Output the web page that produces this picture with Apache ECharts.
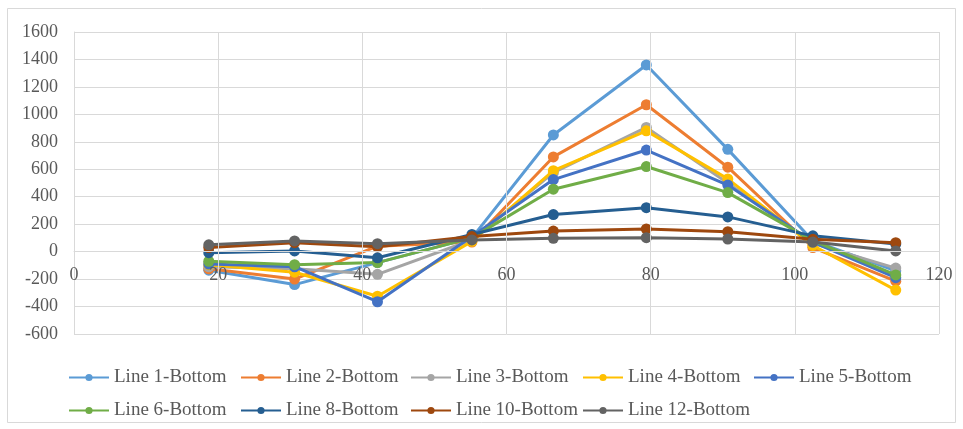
<!DOCTYPE html>
<html>
<head>
<meta charset="utf-8">
<script src="https://cdn.jsdelivr.net/npm/echarts@6/dist/echarts.min.js"></script>
<style>
  html, body { margin: 0; padding: 0; background: #ffffff; }
  #chart { width: 963px; height: 429px; }
</style>
</head>
<body>
<div id="chart"></div>
<script>
// Measurement positions along the section
const positions = [18.7, 30.6, 42.1, 55.2, 66.5, 79.4, 90.7, 102.5, 114.0];

// Values for each line
const line1 = [-135, -240, -80, 100, 850, 1360, 745, 80, -140];
const line2 = [-125, -200, 40, 70, 690, 1070, 615, 30, -215];
const line3 = [-110, -125, -165, 85, 575, 905, 500, 60, -120];
const line4 = [-95, -150, -325, 75, 590, 880, 530, 45, -280];
const line5 = [-90, -110, -365, 110, 525, 740, 485, 70, -190];
const line6 = [-70, -95, -80, 100, 455, 620, 430, 80, -170];
const line8 = [-8, 5, -45, 125, 270, 320, 253, 115, 55];
const line10 = [30, 65, 35, 110, 150, 165, 145, 90, 65];
const line12 = [50, 78, 58, 85, 97, 102, 92, 70, 5];

const seriesNames = ['Line 1-Bottom', 'Line 2-Bottom', 'Line 3-Bottom', 'Line 4-Bottom', 'Line 5-Bottom',
                     'Line 6-Bottom', 'Line 8-Bottom', 'Line 10-Bottom', 'Line 12-Bottom'];
const seriesValues = [line1, line2, line3, line4, line5, line6, line8, line10, line12];
const seriesColors = ['#5B9BD5', '#ED7D31', '#A5A5A5', '#FFC000', '#4472C4', '#70AD47', '#255E91', '#9E480E', '#636363'];

// y axis range
const yMin = -600, yMax = 1600, yStep = 200;
// x axis range
const xMin = 0, xMax = 120, xStep = 20;

const font = '"Liberation Serif", "Times New Roman", serif';

// plot area
const gridTop = 32, gridBottom = 95, chartH = 429;
const gridH = chartH - gridTop - gridBottom;
// horizontal axis crosses the vertical one at zero
const zeroOffset = -(0 - yMin) / (yMax - yMin) * gridH;

const series = seriesNames.map((name, i) => ({
  name: name,
  type: 'line',
  data: positions.map((x, j) => [x, seriesValues[i][j]]),
  symbol: 'circle',
  symbolSize: 11,
  lineStyle: { width: 3, color: seriesColors[i] },
  itemStyle: { color: seriesColors[i] },
  z: 2 + i
}));

// Legend laid out in fixed-width columns, two rows
const colLeft = [68, 240, 410, 582, 753];
const rowTop = [368, 401];
const legends = seriesNames.map((name, i) => ({
  orient: 'horizontal',
  left: colLeft[i % 5],
  top: rowTop[Math.floor(i / 5)],
  padding: 0,
  itemWidth: 40,
  itemHeight: 9,
  itemGap: 0,
  data: [name],
  textStyle: { fontFamily: font, fontSize: 19, color: '#595959' }
}));

const chart = echarts.init(document.getElementById('chart'), null, { renderer: 'canvas' });
chart.setOption({
  backgroundColor: '#ffffff',
  animation: false,
  color: seriesColors,
  graphic: [{
    type: 'rect',
    shape: { x: 7.5, y: 8.5, width: 948, height: 414 },
    style: { fill: 'none', stroke: '#d9d9d9', lineWidth: 1 },
    silent: true
  }],
  grid: { left: 74, right: 24, top: gridTop, bottom: gridBottom, containLabel: false },
  xAxis: {
    type: 'value',
    position: 'bottom',
    offset: zeroOffset,
    z: 20,
    min: xMin, max: xMax, interval: xStep,
    axisLine: { show: true, onZero: false, lineStyle: { color: '#d9d9d9', width: 1 } },
    axisTick: { show: false },
    axisLabel: { fontFamily: font, fontSize: 18, color: '#595959', margin: 15 },
    splitLine: { show: true, lineStyle: { color: '#d9d9d9', width: 1 } }
  },
  yAxis: {
    type: 'value',
    min: yMin, max: yMax, interval: yStep,
    axisLine: { show: true, onZero: false, lineStyle: { color: '#d9d9d9', width: 1 } },
    axisTick: { show: false },
    axisLabel: { fontFamily: font, fontSize: 18, color: '#595959', margin: 16,
                 formatter: v => String(v) },
    splitLine: { show: true, lineStyle: { color: '#d9d9d9', width: 1 } }
  },
  legend: legends,
  series: series
});
</script>
</body>
</html>
